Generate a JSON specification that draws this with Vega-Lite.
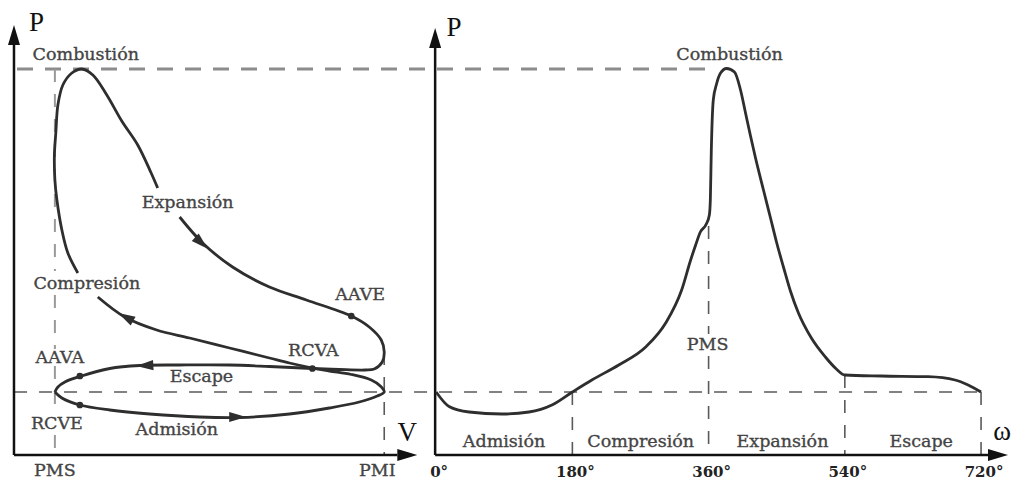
{
  "$schema": "https://vega.github.io/schema/vega-lite/v6.json",
  "width": 1011,
  "height": 484,
  "autosize": {"type": "fit", "contains": "padding"},
  "padding": 0,
  "background": "white",
  "config": {"view": {"stroke": null}},
  "datasets": {
    "pv": [
      {"s": 1, "i": 1, "V": 0, "P": 6.3}, {"s": 1, "i": 2, "V": 2.12, "P": 5.7}, {"s": 1, "i": 3, "V": 7.58, "P": 5.0},
      {"s": 1, "i": 4, "V": 16.67, "P": 4.5}, {"s": 1, "i": 5, "V": 28.79, "P": 4.1}, {"s": 1, "i": 6, "V": 43.94, "P": 3.8},
      {"s": 1, "i": 7, "V": 56.06, "P": 3.75}, {"s": 1, "i": 8, "V": 71.21, "P": 4.1}, {"s": 1, "i": 9, "V": 83.33, "P": 4.7},
      {"s": 1, "i": 10, "V": 92.42, "P": 5.3}, {"s": 1, "i": 11, "V": 97.88, "P": 5.9}, {"s": 1, "i": 12, "V": 100, "P": 6.3},
      {"s": 1, "i": 13, "V": 98.79, "P": 6.9}, {"s": 1, "i": 14, "V": 96.06, "P": 7.5}, {"s": 1, "i": 15, "V": 90, "P": 8.05},
      {"s": 1, "i": 16, "V": 83.33, "P": 8.4}, {"s": 1, "i": 17, "V": 78.18, "P": 8.7}, {"s": 1, "i": 18, "V": 71.21, "P": 9.2},
      {"s": 1, "i": 19, "V": 65.15, "P": 9.7}, {"s": 1, "i": 20, "V": 53.03, "P": 10.7}, {"s": 1, "i": 21, "V": 40.91, "P": 11.7},
      {"s": 1, "i": 22, "V": 30.91, "P": 12.5}, {"s": 1, "i": 23, "V": 21.21, "P": 13.8}, {"s": 1, "i": 24, "V": 13.03, "P": 15.8},
      {"s": 2, "i": 25, "V": 6.97, "P": 18.2}, {"s": 2, "i": 26, "V": 3.94, "P": 20.2}, {"s": 2, "i": 27, "V": 2.12, "P": 22.5},
      {"s": 2, "i": 28, "V": 0.61, "P": 25.5}, {"s": 2, "i": 29, "V": 0, "P": 27.5}, {"s": 2, "i": 30, "V": -0.15, "P": 30},
      {"s": 2, "i": 31, "V": 0.3, "P": 32.3}, {"s": 2, "i": 32, "V": 0.91, "P": 35}, {"s": 2, "i": 33, "V": 2.42, "P": 37},
      {"s": 2, "i": 34, "V": 5.15, "P": 38.2}, {"s": 2, "i": 35, "V": 8.18, "P": 38.6}, {"s": 2, "i": 36, "V": 11.52, "P": 38.0},
      {"s": 2, "i": 37, "V": 15.76, "P": 36.0}, {"s": 2, "i": 38, "V": 20.3, "P": 33.4}, {"s": 2, "i": 39, "V": 25.15, "P": 31.0},
      {"s": 2, "i": 40, "V": 29.09, "P": 28.3}, {"s": 2, "i": 41, "V": 31.21, "P": 26.7},
      {"s": 3, "i": 42, "V": 37.88, "P": 23.8},
      {"s": 3, "i": 43, "V": 44.85, "P": 21.2}, {"s": 3, "i": 44, "V": 53.94, "P": 18.8}, {"s": 3, "i": 45, "V": 65.15, "P": 16.8},
      {"s": 3, "i": 46, "V": 76.36, "P": 15.5}, {"s": 3, "i": 47, "V": 90, "P": 13.9}, {"s": 3, "i": 48, "V": 95.45, "P": 12.8},
      {"s": 3, "i": 49, "V": 99.09, "P": 11.5}, {"s": 3, "i": 50, "V": 100, "P": 10.3}, {"s": 3, "i": 51, "V": 99.39, "P": 9.3},
      {"s": 3, "i": 52, "V": 96.97, "P": 8.6}, {"s": 3, "i": 53, "V": 94.24, "P": 8.5}, {"s": 3, "i": 54, "V": 86.36, "P": 8.55},
      {"s": 3, "i": 55, "V": 78.18, "P": 8.65}, {"s": 3, "i": 56, "V": 65.15, "P": 8.85}, {"s": 3, "i": 57, "V": 53.03, "P": 9.0},
      {"s": 3, "i": 58, "V": 37.88, "P": 9.0}, {"s": 3, "i": 59, "V": 25.76, "P": 8.95}, {"s": 3, "i": 60, "V": 16.67, "P": 8.65},
      {"s": 3, "i": 61, "V": 7.58, "P": 7.85}, {"s": 3, "i": 62, "V": 3.03, "P": 7.3}, {"s": 3, "i": 63, "V": 0.91, "P": 6.8},
      {"s": 3, "i": 64, "V": 0, "P": 6.3}
    ],
    "pw": [
      {"D": 0, "P": 6.3}, {"D": 17.1, "P": 4.85}, {"D": 43.5, "P": 4.3}, {"D": 87.0, "P": 4.1},
      {"D": 122.6, "P": 4.3}, {"D": 153.0, "P": 5.0}, {"D": 180, "P": 6.3}, {"D": 205.7, "P": 7.5},
      {"D": 241.3, "P": 9.0}, {"D": 276.9, "P": 10.8}, {"D": 303.3, "P": 13.2}, {"D": 324.4, "P": 16.5},
      {"D": 336.3, "P": 19.5}, {"D": 342.9, "P": 21.0}, {"D": 349.1, "P": 22.3}, {"D": 357.0, "P": 23.1},
      {"D": 361.0, "P": 24.0}, {"D": 362.3, "P": 25.5}, {"D": 363.6, "P": 30.5}, {"D": 366.2, "P": 35.5},
      {"D": 370.5, "P": 37.1}, {"D": 375.8, "P": 38.2}, {"D": 383.7, "P": 38.65}, {"D": 394.2, "P": 38.3},
      {"D": 402.2, "P": 36.5}, {"D": 408.8, "P": 34.2}, {"D": 415.4, "P": 31.9}, {"D": 422.0, "P": 29.7},
      {"D": 432.5, "P": 26.5}, {"D": 441.8, "P": 23.7}, {"D": 449.7, "P": 21.3}, {"D": 458.9, "P": 18.8},
      {"D": 468.1, "P": 16.4}, {"D": 478.7, "P": 14.2}, {"D": 495.8, "P": 11.7}, {"D": 514.3, "P": 9.8},
      {"D": 528.8, "P": 8.6}, {"D": 540, "P": 8.0}, {"D": 588.1, "P": 7.9}, {"D": 650.1, "P": 7.83},
      {"D": 685.7, "P": 7.5}, {"D": 702.9, "P": 7.0}, {"D": 720, "P": 6.3}
    ]
  },
  "resolve": {"scale": {"x": "independent"}},
  "layer": [
    {
      "encoding": {
        "x": {"field": "V", "type": "quantitative", "axis": null, "scale": {"domain": [-16.667, 289.697], "nice": false, "zero": false}},
        "y": {"field": "P", "type": "quantitative", "axis": null, "scale": {"domain": [-2.9, 45.5], "nice": false, "zero": false}}
      },
      "layer": [
        {"data": {"values": [{"V": -11.5, "V2": 200.9, "P": 38.6}]},
         "mark": {"type": "rule", "color": "#8c8c8c", "strokeWidth": 3, "strokeDash": [16, 12]},
         "encoding": {"x2": {"field": "V2"}}},
        {"data": {"values": [{"V": -12.4, "V2": 281.2, "P": 6.3}]},
         "mark": {"type": "rule", "color": "#5a5a5a", "strokeWidth": 1.6, "strokeDash": [13, 12]},
         "encoding": {"x2": {"field": "V2"}}},
        {"data": {"values": [
            {"V": 0, "P": 38.6, "P2": 18.4},
            {"V": 0, "P": 16.0, "P2": 10.6},
            {"V": 0, "P": 8.9, "P2": 4.1},
            {"V": 0, "P": 2.0, "P2": 0}
          ]},
         "mark": {"type": "rule", "color": "#9a9a9a", "strokeWidth": 2, "strokeDash": [13, 12]},
         "encoding": {"y2": {"field": "P2"}}},
        {"data": {"values": [{"V": 100, "P": 10.3, "P2": 0}]},
         "mark": {"type": "rule", "color": "#5a5a5a", "strokeWidth": 1.6, "strokeDash": [13, 12]},
         "encoding": {"y2": {"field": "P2"}}},
        {"data": {"values": [{"V": -12.42, "P": 0, "P2": 41.5}]},
         "mark": {"type": "rule", "color": "#111111", "strokeWidth": 2.5},
         "encoding": {"y2": {"field": "P2"}}},
        {"data": {"values": [{"V": -12.42, "V2": 104, "P": 0}]},
         "mark": {"type": "rule", "color": "#111111", "strokeWidth": 2.5},
         "encoding": {"x2": {"field": "V2"}}},
        {"data": {"values": [{"V": -12.42, "P": 42.0}]},
         "mark": {"type": "point", "shape": "M-0.6,1L0,-1L0.6,1Z", "size": 400, "filled": true, "color": "#111111", "opacity": 1}},
        {"data": {"values": [{"V": 107.0, "P": 0}]},
         "mark": {"type": "point", "shape": "M-1,-0.6L1,0L-1,0.6Z", "size": 400, "filled": true, "color": "#111111", "opacity": 1}},
        {"data": {"name": "pv"},
         "mark": {"type": "line", "color": "#2e2e2e", "strokeWidth": 2.8, "interpolate": "catmull-rom"},
         "encoding": {"order": {"field": "i", "type": "quantitative"}, "detail": {"field": "s", "type": "nominal"}}},
        {"data": {"values": [{"name": "AAVE", "V": 90.0, "P": 13.9}, {"name": "RCVA", "V": 78.18, "P": 8.65}, {"name": "AAVA", "V": 7.58, "P": 7.9}, {"name": "RCVE", "V": 7.58, "P": 5.0}]},
         "mark": {"type": "point", "shape": "circle", "size": 45, "filled": true, "color": "#2e2e2e", "opacity": 1}},
        {"data": {"values": [{"name": "Admisión", "V": 55.5, "P": 3.8}]},
         "mark": {"type": "point", "shape": "M-1,-0.6L1,0L-1,0.6Z", "size": 289, "angle": 0, "filled": true, "color": "#2e2e2e", "opacity": 1}},
        {"data": {"values": [{"name": "Escape", "V": 27.3, "P": 8.95}]},
         "mark": {"type": "point", "shape": "M-1,-0.6L1,0L-1,0.6Z", "size": 289, "angle": 177, "filled": true, "color": "#2e2e2e", "opacity": 1}},
        {"data": {"values": [{"name": "Compresión", "V": 21.5, "P": 13.8}]},
         "mark": {"type": "point", "shape": "M-1,-0.6L1,0L-1,0.6Z", "size": 289, "angle": 209, "filled": true, "color": "#2e2e2e", "opacity": 1}},
        {"data": {"values": [{"name": "Expansión", "V": 44.5, "P": 21.2}]},
         "mark": {"type": "point", "shape": "M-1,-0.6L1,0L-1,0.6Z", "size": 289, "angle": 43, "filled": true, "color": "#2e2e2e", "opacity": 1}},
        {"data": {"values": [
            {"t": "Combustión", "V": 9.39, "P": 40.0},
            {"t": "Expansión", "V": 40.3, "P": 25.2},
            {"t": "Compresión", "V": 9.7, "P": 17.1},
            {"t": "AAVE", "V": 92.7, "P": 16.0},
            {"t": "RCVA", "V": 78.5, "P": 10.4},
            {"t": "AAVA", "V": 1.5, "P": 9.7},
            {"t": "Escape", "V": 44.5, "P": 7.8},
            {"t": "RCVE", "V": 0.6, "P": 3.1},
            {"t": "Admisión", "V": 37.0, "P": 2.5},
            {"t": "PMS", "V": 0, "P": -1.6},
            {"t": "PMI", "V": 97.9, "P": -1.6}
          ]},
         "mark": {"type": "text", "font": "DejaVu Serif", "fontSize": 17.5, "color": "#444444", "stroke": "#444444", "strokeWidth": 0.35, "align": "center", "baseline": "middle"},
         "encoding": {"text": {"field": "t"}}},
        {"data": {"values": [{"t": "P", "V": -5.6, "P": 43.25}, {"t": "V", "V": 107.0, "P": 2.2}]},
         "mark": {"type": "text", "font": "Liberation Serif", "fontSize": 27, "color": "#111111", "align": "center", "baseline": "middle"},
         "encoding": {"text": {"field": "t"}}}
      ]
    },
    {
      "encoding": {
        "x": {"field": "D", "type": "quantitative", "axis": null, "scale": {"domain": [-576.264, 756.923], "nice": false, "zero": false}},
        "y": {"field": "P", "type": "quantitative", "axis": null, "scale": {"domain": [-2.9, 45.5], "nice": false, "zero": false}}
      },
      "layer": [
        {"data": {"values": [
            {"D": 180, "P": 6.3, "P2": 0},
            {"D": 360, "P": 22.9, "P2": 12.1},
            {"D": 360, "P": 9.9, "P2": 0},
            {"D": 540, "P": 8.0, "P2": 0},
            {"D": 720, "P": 6.3, "P2": 0}
          ]},
         "mark": {"type": "rule", "color": "#5a5a5a", "strokeWidth": 1.6, "strokeDash": [13, 12]},
         "encoding": {"y2": {"field": "P2"}}},
        {"data": {"values": [{"D": -1.32, "P": 0, "P2": 41.2}]},
         "mark": {"type": "rule", "color": "#111111", "strokeWidth": 2.5},
         "encoding": {"y2": {"field": "P2"}}},
        {"data": {"values": [{"D": -1.32, "D2": 735, "P": 0}]},
         "mark": {"type": "rule", "color": "#111111", "strokeWidth": 2.5},
         "encoding": {"x2": {"field": "D2"}}},
        {"data": {"values": [{"D": -1.32, "P": 41.7}]},
         "mark": {"type": "point", "shape": "M-0.6,1L0,-1L0.6,1Z", "size": 400, "filled": true, "color": "#111111", "opacity": 1}},
        {"data": {"values": [{"D": 742.4, "P": 0}]},
         "mark": {"type": "point", "shape": "M-1,-0.6L1,0L-1,0.6Z", "size": 400, "filled": true, "color": "#111111", "opacity": 1}},
        {"data": {"name": "pw"},
         "mark": {"type": "line", "color": "#2e2e2e", "strokeWidth": 2.8, "interpolate": "monotone"}},
        {"data": {"values": [
            {"t": "Combustión", "D": 387.7, "P": 40.0},
            {"t": "PMS", "D": 358.7, "P": 11.0},
            {"t": "Admisión", "D": 89.7, "P": 1.3},
            {"t": "Compresión", "D": 270.3, "P": 1.3},
            {"t": "Expansión", "D": 457.6, "P": 1.3},
            {"t": "Escape", "D": 640.9, "P": 1.3}
          ]},
         "mark": {"type": "text", "font": "DejaVu Serif", "fontSize": 17.5, "color": "#444444", "stroke": "#444444", "strokeWidth": 0.35, "align": "center", "baseline": "middle"},
         "encoding": {"text": {"field": "t"}}},
        {"data": {"values": [
            {"t": "0°", "D": 0, "P": -1.7},
            {"t": "180°", "D": 180, "P": -1.7},
            {"t": "360°", "D": 360, "P": -1.7},
            {"t": "540°", "D": 540, "P": -1.7},
            {"t": "720°", "D": 720, "P": -1.7}
          ]},
         "mark": {"type": "text", "font": "DejaVu Serif", "fontSize": 15, "fontWeight": "bold", "color": "#222222", "align": "center", "baseline": "middle", "dx": 3},
         "encoding": {"text": {"field": "t"}}},
        {"data": {"values": [{"t": "P", "D": 23.7, "P": 42.7}, {"t": "ω", "D": 747.7, "P": 2.3}]},
         "mark": {"type": "text", "font": "Liberation Serif", "fontSize": 27, "color": "#111111", "align": "center", "baseline": "middle"},
         "encoding": {"text": {"field": "t"}}}
      ]
    }
  ]
}
